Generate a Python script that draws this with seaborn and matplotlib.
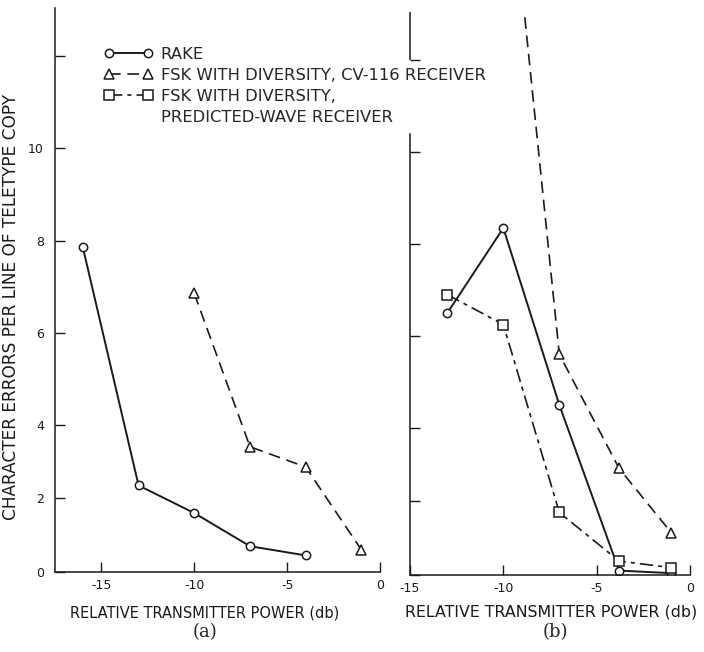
import numpy as np
import matplotlib
matplotlib.use('Agg')
import matplotlib.pyplot as plt
from matplotlib.lines import Line2D
import seaborn as sns

# (a) values
power_a_rake = [-16, -13, -10, -7, -4]
errors_a_rake = [7.85, 2.35, 1.6, 0.7, 0.45]
power_a_cv116 = [-10, -7, -4, -1]
errors_a_cv116 = [6.85, 3.4, 2.85, 0.6]

# (b) values (first CV-116 point runs off the top)
power_b = [-13, -10, -7, -3.8, -1]
errors_b_rake = [6.5, 8.35, 4.5, 0.12, 0.05]
errors_b_predicted = [6.9, 6.25, 1.7, 0.38, 0.2]
power_b_cv116 = [-10, -7, -3.8, -1]
errors_b_cv116 = [17.5, 5.6, 2.9, 1.15]

x_ticks = [-15, -10, -5, 0]
x_tick_labels = ['-15', '-10', '-5', '0']
y_ticks = [0, 2, 4, 6, 8, 10, 12]
y_tick_labels = ['0', '2', '4', '6', '8', '10', '']

legend_labels = ['RAKE',
                 'FSK WITH DIVERSITY, CV-116 RECEIVER',
                 'FSK WITH DIVERSITY,',
                 'PREDICTED-WAVE RECEIVER']


# the hand-drawn ordinate is squeezed below 4
def fwd(y):
    y = np.asarray(y, dtype=float)
    return np.where(y <= 4, 0.8 * y, y - 0.8)


def inv(v):
    v = np.asarray(v, dtype=float)
    return np.where(v <= 3.2, v / 0.8, v + 0.8)


sns.set_theme(style='white')
plt.rcParams['font.family'] = ['DejaVu Sans']
plt.rcParams['axes.unicode_minus'] = False

fig = plt.figure(figsize=(7.04, 6.52), dpi=100)
ax_a = fig.add_axes([55 / 704, 1 - 572 / 652, 325 / 704, 564 / 652])
ax_b = fig.add_axes([410 / 704, 1 - 575 / 652, 280 / 704, 563 / 652])

rake_kw = dict(color='k', linestyle='-', linewidth=1.4, marker='o', markersize=6,
               markerfacecolor='white', markeredgecolor='k', markeredgewidth=1.1)
cv116_kw = dict(color='k', linestyle=(0, (7, 4)), linewidth=1.2, marker='^', markersize=7,
                markerfacecolor='white', markeredgecolor='k', markeredgewidth=1.1)
pw_kw = dict(color='k', linestyle=(0, (8, 3, 2.5, 3)), linewidth=1.2, marker='s', markersize=7,
             markerfacecolor='white', markeredgecolor='k', markeredgewidth=1.1)

for ax in (ax_a, ax_b):
    ax.set_yscale('function', functions=(fwd, inv))

sns.lineplot(x=power_a_rake, y=errors_a_rake, ax=ax_a, legend=False, errorbar=None,
             label=legend_labels[0], **rake_kw)
sns.lineplot(x=power_a_cv116, y=errors_a_cv116, ax=ax_a, legend=False, errorbar=None,
             label=legend_labels[1], **cv116_kw)

sns.lineplot(x=power_b, y=errors_b_rake, ax=ax_b, legend=False, errorbar=None, **rake_kw)
sns.lineplot(x=power_b_cv116, y=errors_b_cv116, ax=ax_b, legend=False, errorbar=None, **cv116_kw)
sns.lineplot(x=power_b, y=errors_b_predicted, ax=ax_b, legend=False, errorbar=None,
             label=legend_labels[2], **pw_kw)

for ax in (ax_a, ax_b):
    ax.set_ylim(0, 13.05)
    ax.set_xlim(-17.5 if ax is ax_a else -15, 0)
    ax.set_xticks(x_ticks, labels=x_tick_labels)
    ax.set_yticks(y_ticks, labels=y_tick_labels)
    ax.yaxis.set_minor_locator(matplotlib.ticker.NullLocator())
    ax.tick_params(bottom=True, left=True, direction='in', length=7, width=1.0,
                   colors='k', labelsize=9, pad=5)
    ax.tick_params(axis='y', pad=8)
    for side in ('top', 'right'):
        ax.spines[side].set_visible(False)
    for side in ('left', 'bottom'):
        ax.spines[side].set_color('k')
        ax.spines[side].set_linewidth(1.1)
    ax.patch.set_alpha(0)

ax_a.set_xlabel('RELATIVE TRANSMITTER POWER (db)', fontsize=10.5, color='k')
ax_b.set_xlabel('RELATIVE TRANSMITTER POWER (db)', fontsize=11.4, color='k')
ax_a.set_ylabel('CHARACTER ERRORS PER LINE OF TELETYPE COPY', fontsize=12.2, color='k')
ax_a.yaxis.set_label_coords(-0.108, 0.47)
ax_a.xaxis.set_label_coords(0.46, -0.06)
ax_b.xaxis.set_label_coords(0.504, -0.052)
ax_b.tick_params(axis='y', labelleft=False)

# right ordinate is broken by the legend text
ax_b.spines['left'].set_bounds(0, 10.4)
ax_b.plot([-15, -15], [12, 13.05], color='k', linewidth=1.1, clip_on=False,
          solid_capstyle='butt')

h_a, _ = ax_a.get_legend_handles_labels()
h_b, _ = ax_b.get_legend_handles_labels()
blank = Line2D([], [], color='none')
fig.legend(h_a + h_b + [blank], legend_labels, loc='upper left',
           bbox_to_anchor=(104 / 704, 1 - 47 / 652), frameon=False, numpoints=2,
           handlelength=3.0, handletextpad=0.45, labelspacing=0.36,
           borderpad=0, borderaxespad=0, fontsize=11.8)

fig.text(205 / 704, 1 - 632 / 652, '(a)', ha='center', va='center',
         fontsize=13, family='DejaVu Serif')
fig.text(555 / 704, 1 - 632 / 652, '(b)', ha='center', va='center',
         fontsize=13, family='DejaVu Serif')

fig.savefig('out.png', dpi=100)
plt.close(fig)
